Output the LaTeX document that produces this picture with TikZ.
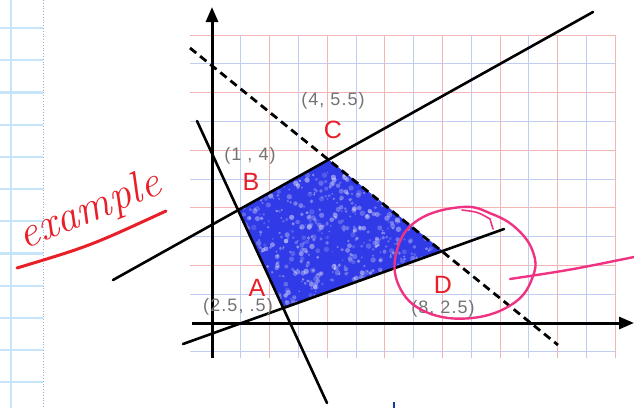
\documentclass[tikz,border=0pt]{standalone}
\usepackage{fontspec}
\newfontfamily\sansfont{Liberation Sans}
\usetikzlibrary{arrows.meta}
\definecolor{gridred}{RGB}{243,180,180}
\definecolor{gridblue}{RGB}{190,205,240}
\definecolor{paperblue}{RGB}{198,228,250}
\definecolor{fillblue}{RGB}{48,58,230}
\definecolor{labred}{RGB}{232,30,40}
\definecolor{labgray}{RGB}{115,115,115}
\definecolor{pinkc}{RGB}{240,50,130}
\definecolor{markblue}{RGB}{20,60,160}
\begin{document}
\begin{tikzpicture}[x=1pt,y=-1pt,
  redline/.style={draw=gridred, line width=1pt},
  blueline/.style={draw=gridblue, line width=1pt},
  paperline/.style={draw=paperblue, line width=2.2pt},
  axisline/.style={draw=black, line width=3pt},
  eqline/.style={draw=black, line width=2.6pt, line cap=round},
  dashline/.style={draw=black, line width=2.8pt, dash pattern=on 8pt off 5pt},
  ptlabel/.style={text=labred, font=\sansfont\fontsize{25}{28}\selectfont, inner sep=0pt},
  coordlabel/.style={text=labgray, font=\sansfont\fontsize{18}{20}\selectfont\addfontfeature{LetterSpace=6}, inner sep=0pt},
  pinkstroke/.style={draw=pinkc, line width=2.4pt, line cap=round, line join=round}
]
\useasboundingbox (0,0) rectangle (634,408);
\fill[white] (0,0) rectangle (634,408);

% notebook paper at the left
\foreach \yy in {28,60.2,...,390} \draw[paperline] (0,\yy) -- (43,\yy);
\draw[paperline] (11,0) -- (11,408);
\draw[draw={rgb,255:red,150;green,180;blue,215}, line width=0.8pt, dotted] (43,0) -- (43,408);

% graph paper grid
\foreach \k in {-1,1,3,5,7,9} \draw[blueline] (190,{323-28.8*\k}) -- (616,{323-28.8*\k});
\foreach \k in {2,4,6,8,10} \draw[redline] (190,{323-28.8*\k}) -- (616,{323-28.8*\k});
\foreach \k in {1,3,...,13} \draw[blueline] ({212+28.8*\k},35) -- ({212+28.8*\k},358);
\foreach \k in {2,4,...,14} \draw[redline] ({212+28.8*\k},35) -- ({212+28.8*\k},358);

% vertices of the feasible region
\coordinate (A) at (284,307);
\coordinate (B) at (239,210);
\coordinate (C) at (328,159);
\coordinate (D) at (443,251);

% shaded region with a scribbled look
\fill[fillblue] (A) -- (B) -- (C) -- (D) -- cycle;
\begin{scope}
  \clip (A) -- (B) -- (C) -- (D) -- cycle;
  \pgfmathsetseed{11}
  \foreach \i in {1,...,800} {
    \pgfmathsetmacro\rx{239+204*rnd}
    \pgfmathsetmacro\ry{159+148*rnd}
    \pgfmathsetmacro\rr{0.8+2.0*rnd}
    \pgfmathsetmacro\op{0.15+0.3*rnd}
    \fill[white, opacity=\op] (\rx,\ry) circle (\rr pt);
  }
\end{scope}

% axes
\coordinate (yb) at (212,358);
\coordinate (yt) at (212,7);
\coordinate (xl) at (192,323);
\coordinate (xr) at (634,323);
\draw[axisline, -{Triangle[length=15pt,width=12pt]}] (yb) -- (yt);
\draw[axisline, -{Triangle[length=15pt,width=12pt]}] (xl) -- (xr);

% constraint lines
\coordinate (ab1) at (197,121);
\coordinate (ab2) at (327,403);
\coordinate (bc1) at (113,280);
\coordinate (bc2) at (593,12);
\coordinate (cd1) at (190,48);
\coordinate (cd2) at (558,345);
\coordinate (ad1) at (183,344);
\coordinate (ad2) at (504,229);
\draw[eqline] (ab1) -- (ab2);
\draw[eqline] (bc1) -- (bc2);
\draw[eqline] (ad1) -- (ad2);
\draw[dashline] (cd1) -- (cd2);

% labels
\node[ptlabel] (lC) at (333,130) {C};
\node[ptlabel] (lB) at (251,182) {B};
\node[ptlabel] (lA) at (257,288) {A};
\node[ptlabel] (lD) at (443,285) {D};
\node[coordlabel] (cC) at (333,101) {(4, 5.5)};
\node[coordlabel] (cB) at (250,156) {(1 , 4)};
\node[coordlabel] (cA) at (238,307) {(2.5, .5)};
\node[coordlabel] (cD) at (443,309) {(8, 2.5)};

% handwritten "example"
\node[text=labred, font=\fontsize{44}{48}\selectfont\itshape, rotate=22, inner sep=0pt] (ex) at (90,211) {example};
\coordinate (u1) at (17,268);
\coordinate (u2) at (166,211);
\draw[draw=labred, line width=3pt, line cap=round] (u1) .. controls (90,246) .. (u2);

% pink circle and pointer
\draw[pinkstroke] plot[smooth cycle, tension=0.7] coordinates {(462,207) (492,214) (517,229) (533,252) (533,276) (514,303) (472,318) (426,312) (399,286) (397,250) (418,220)};
\draw[pinkstroke, line width=1.6pt] (462,210) .. controls (478,212) .. (490,219) -- (493,229);
\coordinate (p1) at (510,279);
\coordinate (p2) at (634,257);
\draw[pinkstroke] (p1) .. controls (570,270) .. (p2);

% small blue mark at the bottom
\coordinate (m1) at (394,402);
\coordinate (m2) at (394,408);
\draw[draw=markblue, line width=1.8pt] (m1) -- (m2);
\end{tikzpicture}
\end{document}
